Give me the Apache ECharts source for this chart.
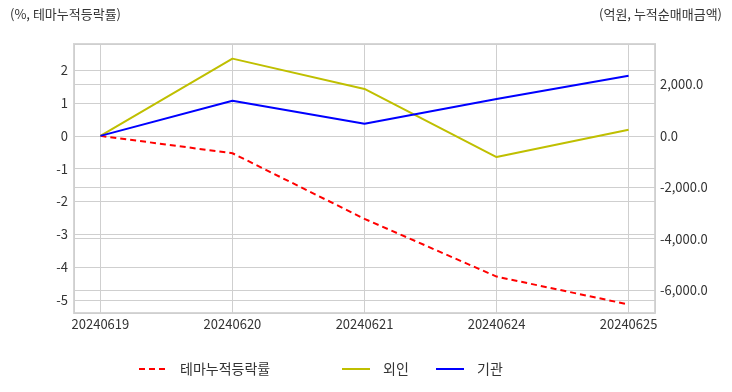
<!DOCTYPE html>
<html><head><meta charset="utf-8">
<script src="https://cdn.jsdelivr.net/npm/echarts@6/dist/echarts.min.js"></script>
<style>html,body{margin:0;padding:0;background:#fff}#c{width:732px;height:392px}</style>
</head><body><div id="c"></div>
<script>
const categories = ['20240619','20240620','20240621','20240624','20240625'];
const themeReturn = [0, -0.53, -2.53, -4.29, -5.14];
const foreign = [0, 3010, 1830, -823, 242];
const institution = [0, 1372, 476, 1439, 2347];
const seriesNames = ['테마누적등락률','외인','기관'];
const leftAxisTitle = '(%, 테마누적등락률)';
const rightAxisTitle = '(억원, 누적순매매금액)';

const FONT = '"Noto Sans CJK KR", "Noto Sans", sans-serif';
const toPts = arr => arr.map((v, i) => [i, v]);
const chart = echarts.init(document.getElementById('c'));
const legendBase = {
  top: 357, itemWidth: 28, itemHeight: 14, itemGap: 10,
  itemStyle: {opacity: 0},
  textStyle: {fontFamily: FONT, fontSize: 14, color: '#333', padding: [0,0,0,8]}
};
chart.setOption({
  animation: false,
  textStyle: {fontFamily: FONT},
  grid: {left: 74, right: 77, top: 44, bottom: 79, show: true, borderColor: '#d6d6d6', borderWidth: 2, containLabel: false},
  legend: [
    Object.assign({}, legendBase, {left: 133, data: [seriesNames[0]]}),
    Object.assign({}, legendBase, {left: 336, data: [seriesNames[1]]}),
    Object.assign({}, legendBase, {left: 430, data: [seriesNames[2]]})
  ],
  graphic: [
    {type: 'text', left: 10, top: 8, style: {text: leftAxisTitle, font: '13px ' + FONT, fill: '#333'}},
    {type: 'text', right: 10, top: 8, style: {text: rightAxisTitle, font: '13px ' + FONT, fill: '#333'}}
  ],
  xAxis: {
    type: 'value', min: -0.2, max: 4.2, splitNumber: 4,
    axisLine: {show: false}, axisTick: {show: false},
    splitLine: {show: true, lineStyle: {color: '#cfcfcf', width: 1}},
    axisLabel: {
      showMinLabel: false, showMaxLabel: false, margin: 5,
      fontSize: 13, color: '#333', fontFamily: FONT,
      formatter: v => (Number.isInteger(v) && categories[v]) ? categories[v] : ''
    }
  },
  yAxis: [
    {
      type: 'value', min: -5.4, max: 2.8, splitNumber: 8, position: 'left',
      axisLine: {show: false}, axisTick: {show: false},
      splitLine: {show: true, lineStyle: {color: '#cfcfcf', width: 1}},
      axisLabel: {showMinLabel: false, showMaxLabel: false, margin: 6, fontSize: 13, color: '#333', fontFamily: FONT}
    },
    {
      type: 'value', min: -6900, max: 3580, splitNumber: 5, position: 'right',
      axisLine: {show: false}, axisTick: {show: false},
      splitLine: {show: true, lineStyle: {color: '#cfcfcf', width: 1}},
      axisLabel: {showMinLabel: false, showMaxLabel: false, margin: 5, fontSize: 13, color: '#333', fontFamily: FONT,
        formatter: v => v.toLocaleString('en-US', {minimumFractionDigits: 1, maximumFractionDigits: 1})}
    }
  ],
  series: [
    {name: seriesNames[0], type: 'line', yAxisIndex: 0, data: toPts(themeReturn), showSymbol: false, symbol: 'none',
      lineStyle: {color: '#ff0000', width: 2, type: [6, 4]}, itemStyle: {color: '#ff0000'}},
    {name: seriesNames[1], type: 'line', yAxisIndex: 1, data: toPts(foreign), showSymbol: false, symbol: 'none',
      lineStyle: {color: '#bfbf00', width: 2}, itemStyle: {color: '#bfbf00'}},
    {name: seriesNames[2], type: 'line', yAxisIndex: 1, data: toPts(institution), showSymbol: false, symbol: 'none',
      lineStyle: {color: '#0000ff', width: 2}, itemStyle: {color: '#0000ff'}}
  ]
});
</script></body></html>
